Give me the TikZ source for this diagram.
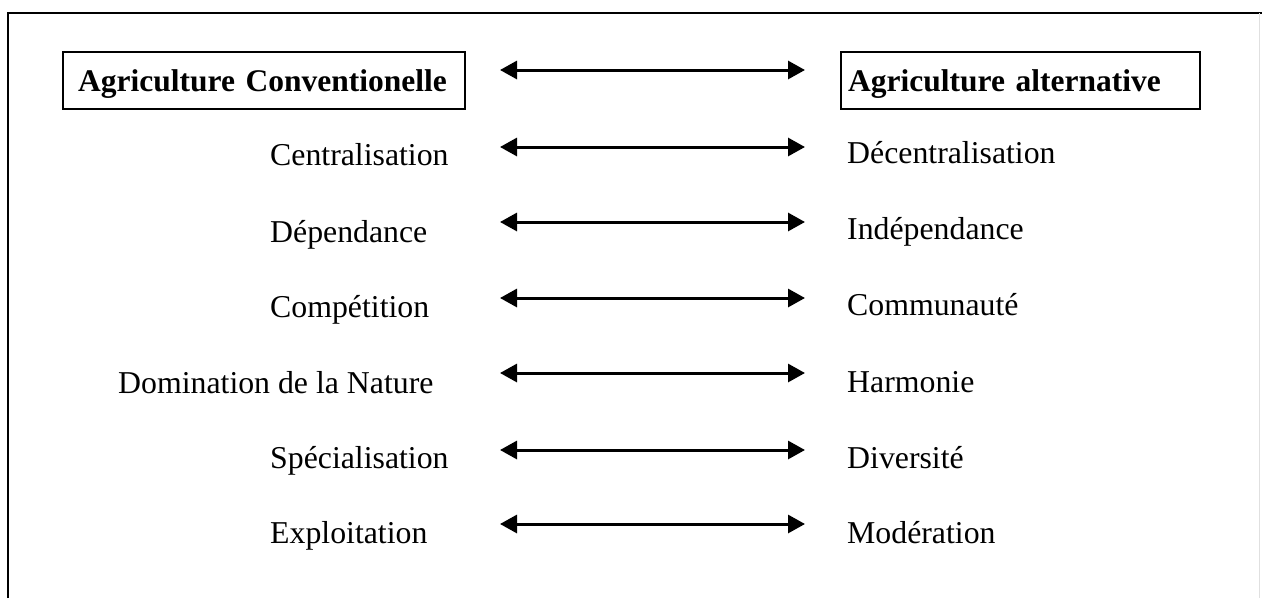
\documentclass[tikz,border=0pt]{standalone}
\usepackage{fontspec}
\setmainfont{Liberation Serif}
\usetikzlibrary{arrows.meta}
\begin{document}
\begin{tikzpicture}[x=1pt,y=-1pt,
  txt/.style={anchor=base west, inner sep=0pt, font=\fontsize{31.8}{36}\selectfont},
  hbox/.style={draw, line width=2.4pt, anchor=base west, inner ysep=0pt,
    text height=39pt, text depth=18pt, align=left,
    font=\fontsize{31.5}{36}\selectfont\bfseries},
  dblarrow/.style={line width=3pt, {Triangle[length=17pt,width=18pt]}-{Triangle[length=17pt,width=18pt]}},
  frame/.style={line width=2pt}]
\useasboundingbox (0,0) rectangle (1262,598);
% outer frame
\coordinate (ftl) at (8,13);
\coordinate (ftr) at (1262,13);
\coordinate (fbl) at (8,598);
\draw[frame] (fbl) -- (ftl) -- (ftr);
\coordinate (frt) at (1259,13);
\coordinate (frb) at (1259,598);
\draw[line width=1pt, black!12] (frt) -- (frb);
% header boxes
\node[hbox, inner xsep=15pt, text width=372pt] (hl) at (62,91) {Agriculture Conventionelle};
\node[hbox, inner xsep=7pt, text width=345pt] (hr) at (840,91) {Agriculture alternative};
\coordinate (h0l) at (500,70); \coordinate (h0r) at (805,70);
\draw[dblarrow] (h0l) -- (h0r);
% rows
\node[txt] (l1) at (270,165) {Centralisation};
\node[txt] (r1) at (847,163) {Décentralisation};
\coordinate (a1l) at (500,147); \coordinate (a1r) at (805,147);
\draw[dblarrow] (a1l) -- (a1r);

\node[txt] (l2) at (270,242) {Dépendance};
\node[txt] (r2) at (847,239) {Indépendance};
\coordinate (a2l) at (500,222); \coordinate (a2r) at (805,222);
\draw[dblarrow] (a2l) -- (a2r);

\node[txt] (l3) at (270,317) {Compétition};
\node[txt] (r3) at (847,315) {Communauté};
\coordinate (a3l) at (500,298); \coordinate (a3r) at (805,298);
\draw[dblarrow] (a3l) -- (a3r);

\node[txt] (l4) at (118,393) {Domination de la Nature};
\node[txt] (r4) at (847,392) {Harmonie};
\coordinate (a4l) at (500,373); \coordinate (a4r) at (805,373);
\draw[dblarrow] (a4l) -- (a4r);

\node[txt] (l5) at (270,468) {Spécialisation};
\node[txt] (r5) at (847,468) {Diversité};
\coordinate (a5l) at (500,450); \coordinate (a5r) at (805,450);
\draw[dblarrow] (a5l) -- (a5r);

\node[txt] (l6) at (270,543) {Exploitation};
\node[txt] (r6) at (847,543) {Modération};
\coordinate (a6l) at (500,524); \coordinate (a6r) at (805,524);
\draw[dblarrow] (a6l) -- (a6r);
\end{tikzpicture}
\end{document}
